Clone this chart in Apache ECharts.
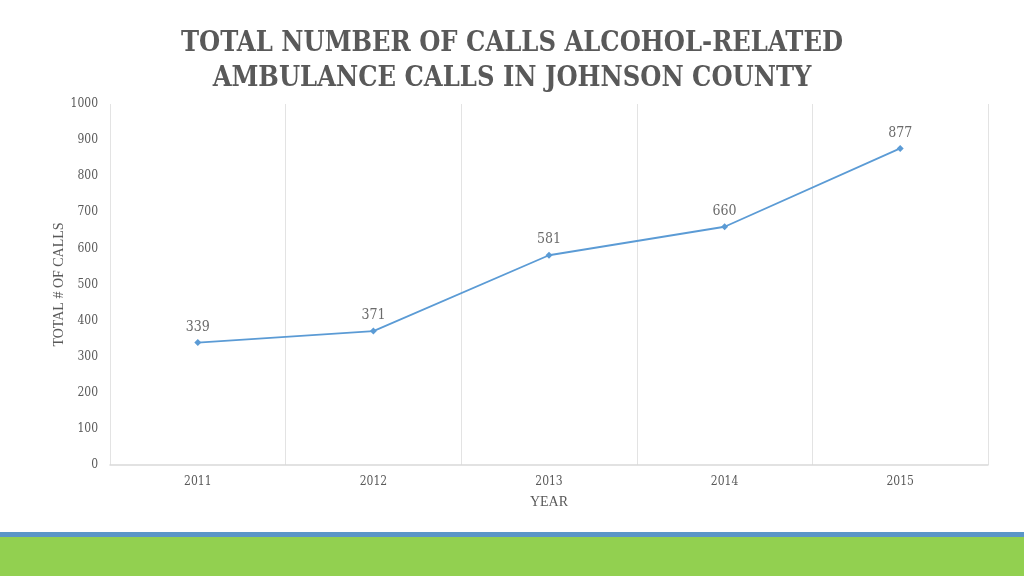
<!DOCTYPE html>
<html>
<head>
<meta charset="utf-8">
<script src="https://cdn.jsdelivr.net/npm/echarts@6/dist/echarts.min.js"></script>
<style>html,body{margin:0;padding:0;background:#fff}#c{width:1024px;height:576px}</style>
</head>
<body>
<div id="c"></div>
<script>
const years = ['2011', '2012', '2013', '2014', '2015'];
const calls = [339, 371, 581, 660, 877];
const yTicks = { min: 0, max: 1000, interval: 100 };

const chart = echarts.init(document.getElementById('c'));
chart.setOption({
  animation: false,
  backgroundColor: '#ffffff',
  title: {
    text: 'TOTAL NUMBER OF CALLS ALCOHOL-RELATED\nAMBULANCE CALLS IN JOHNSON COUNTY',
    left: 'center',
    top: 21,
    textStyle: {
      fontFamily: 'DejaVu Serif Condensed',
      fontWeight: 'bold',
      fontSize: 27,
      lineHeight: 35,
      color: '#595959'
    }
  },
  grid: { left: 110, right: 36, top: 104, bottom: 111, containLabel: false },
  xAxis: {
    type: 'category',
    data: years,
    boundaryGap: true,
    name: 'YEAR',
    nameLocation: 'middle',
    nameGap: 30,
    nameTextStyle: { fontFamily: 'Liberation Serif', fontSize: 14, color: '#595959' },
    axisLine: { show: true, lineStyle: { color: '#d9d9d9', width: 1.5 } },
    axisTick: { show: false },
    axisLabel: { margin: 11, fontFamily: 'DejaVu Serif Condensed', fontSize: 12, color: '#595959' },
    splitLine: { show: true, lineStyle: { color: '#e3e3e3', width: 1 } }
  },
  yAxis: {
    type: 'value',
    min: yTicks.min,
    max: yTicks.max,
    interval: yTicks.interval,
    name: 'TOTAL # OF CALLS',
    nameLocation: 'middle',
    nameRotate: 90,
    nameGap: 44,
    nameMoveOverlap: false,
    nameTextStyle: { fontFamily: 'Liberation Serif', fontSize: 14, color: '#595959' },
    axisLine: { show: false },
    axisTick: { show: false },
    splitLine: { show: false },
    axisLabel: {
      margin: 12,
      fontFamily: 'DejaVu Serif Condensed',
      fontSize: 12,
      color: '#595959',
      formatter: function (v) { return String(v); }
    }
  },
  series: [{
    type: 'line',
    data: calls,
    symbol: 'diamond',
    symbolSize: 7,
    itemStyle: { color: '#5b9bd5' },
    lineStyle: { color: '#5b9bd5', width: 1.8 },
    label: {
      show: true,
      position: 'top',
      distance: 5,
      fontFamily: 'DejaVu Serif Condensed',
      fontSize: 14,
      color: '#6b6b6b'
    }
  }],
  graphic: [
    { type: 'rect', left: 0, top: 532, shape: { width: 1024, height: 5 }, style: { fill: '#5a96c8' }, silent: true },
    { type: 'rect', left: 0, top: 537, shape: { width: 1024, height: 39 }, style: { fill: '#92d050' }, silent: true }
  ]
});
</script>
</body>
</html>
